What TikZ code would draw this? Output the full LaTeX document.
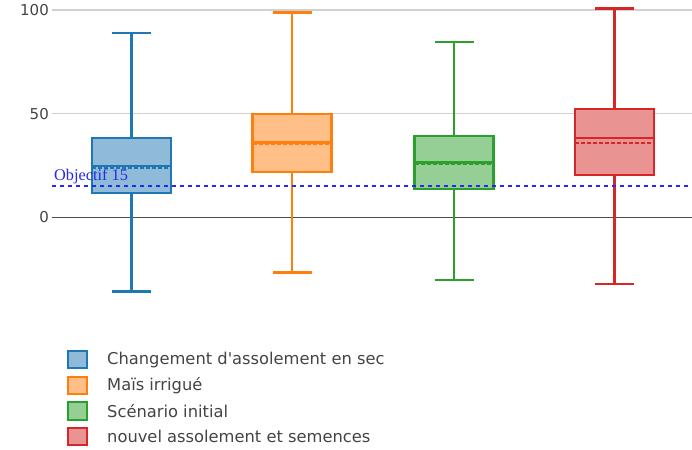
\documentclass[tikz,border=0pt]{standalone}
\usepackage{fontspec}
\setmainfont{DejaVu Sans}[Ligatures=TeXOff]
\newfontfamily\serifobj{Liberation Serif}
\definecolor{cblue}{RGB}{31,119,180}
\definecolor{corange}{RGB}{255,127,14}
\definecolor{cgreen}{RGB}{44,160,44}
\definecolor{cred}{RGB}{214,39,40}
\definecolor{objblue}{RGB}{40,40,235}
\definecolor{txtgray}{RGB}{68,68,68}
\definecolor{gridgray}{RGB}{208,208,208}
\newcommand{\mybox}[8]{%
  \draw[whisk,#1] (#2,#3) -- (#2,#4);
  \draw[whisk,#1] (#2,#7) -- (#2,#8);
  \draw[whisk,#1] (#2-19.5,#3) -- (#2+19.5,#3);
  \draw[whisk,#1] (#2-19.5,#8) -- (#2+19.5,#8);
  \filldraw[whisk,draw=#1,fill=#1!50] (#2-39.5,#4) rectangle (#2+39.5,#7);
  \draw[whisk,#1] (#2-39.5,#5) -- (#2+39.5,#5);
  \draw[whisk,#1,line width=2pt,dash pattern=on 4pt off 2pt] (#2-39.5,#6) -- (#2+39.5,#6);
}
\begin{document}
\begin{tikzpicture}[x=1pt,y=-1pt,
  whisk/.style={line width=2.6pt},
  grid/.style={gridgray,line width=1.4pt},
  tick/.style={anchor=east,text=txtgray,font=\fontsize{15}{15}\selectfont,inner sep=0pt},
  legsq/.style={draw,line width=2.2pt,minimum width=19pt,minimum height=17.5pt,inner sep=0pt},
  legtxt/.style={anchor=west,text=txtgray,font=\fontsize{16.3}{16.3}\selectfont,inner sep=0pt}]
\useasboundingbox (0,0) rectangle (692,449);
\fill[white] (0,0) rectangle (692,449);
% grid
\draw[grid] (52,10) -- (692,10);
\draw[grid] (52,113.7) -- (692,113.7);
\draw[black!70,line width=1.3pt] (52,217.3) -- (692,217.3);
\node[tick] (t100) at (49,10) {100};
\node[tick] (t50) at (49,113.7) {50};
\node[tick] (t0) at (49,217.3) {0};
% boxes
\mybox{cblue}{131.5}{33}{138}{166}{167.5}{193}{291.7}
\mybox{corange}{292}{12.7}{114}{142.7}{144.3}{172}{272.3}
\mybox{cgreen}{454}{42}{136}{162.3}{164}{189}{280}
\mybox{cred}{614.5}{8.7}{109}{138}{142.7}{175}{284}
% objective
\draw[objblue,line width=1.6pt,dash pattern=on 4pt off 4pt] (52,186) -- (692,186);
\node[anchor=base west,text=objblue,font=\serifobj\fontsize{16.3}{16.3}\selectfont,inner sep=0pt] (obj) at (54,180.5) {Objectif 15};
% legend
\node[legsq,draw=cblue,fill=cblue!50] (l1) at (77.5,359.5) {};
\node[legsq,draw=corange,fill=corange!50] (l2) at (77.5,385.5) {};
\node[legsq,draw=cgreen,fill=cgreen!50] (l3) at (77.5,411) {};
\node[legsq,draw=cred,fill=cred!50] (l4) at (77.5,436.5) {};
\node[legtxt] (lt1) at (107,359.5) {Changement d'assolement en sec};
\node[legtxt] (lt2) at (107,385.5) {Maïs irrigué};
\node[legtxt] (lt3) at (107,411) {Scénario initial};
\node[legtxt] (lt4) at (107,436.5) {nouvel assolement et semences};
\end{tikzpicture}
\end{document}
